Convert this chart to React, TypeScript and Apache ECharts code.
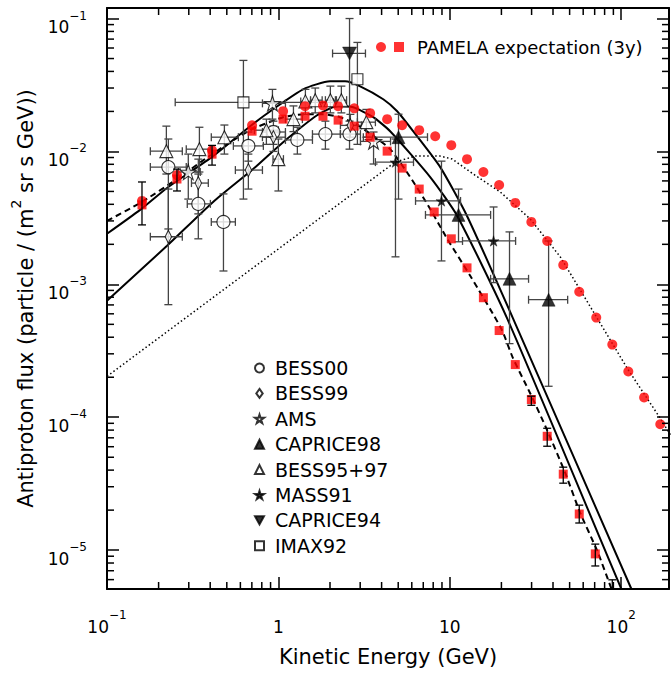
import React, { useEffect, useRef } from 'react';
import * as echarts from 'echarts';

const FONT = '"DejaVu Sans", Verdana, sans-serif';

const X_MIN = 0.1;
const X_MAX = 190;
const Y_MIN = 5.1e-6;
const Y_MAX = 0.12;

const xMinorTicks = [0.2, 0.3, 0.4, 0.5, 0.6, 0.7, 0.8, 0.9, 2, 3, 4, 5, 6, 7, 8, 9, 20, 30, 40, 50, 60, 70, 80, 90];
const yMinorTicks = [
  6e-6, 7e-6, 8e-6, 9e-6,
  2e-5, 3e-5, 4e-5, 5e-5, 6e-5, 7e-5, 8e-5, 9e-5,
  2e-4, 3e-4, 4e-4, 5e-4, 6e-4, 7e-4, 8e-4, 9e-4,
  2e-3, 3e-3, 4e-3, 5e-3, 6e-3, 7e-3, 8e-3, 9e-3,
  2e-2, 3e-2, 4e-2, 5e-2, 6e-2, 7e-2, 8e-2, 9e-2,
];

// Model curves
const upperE = [0.1, 0.156, 0.224, 0.416, 0.684, 0.931, 1.394, 2.0, 2.45, 3.0, 4.09, 4.93, 6.11, 8.79, 12.6, 23.4, 114.5, 200];
const upperF = [2.4e-3, 3.63e-3, 5.31e-3, 9.22e-3, 1.548e-2, 2.077e-2, 2.934e-2, 3.37e-2, 3.37e-2, 3.09e-2, 2.47e-2, 2.006e-2, 1.42e-2, 7.62e-3, 3.27e-3, 5.52e-4, 5.12e-6, 9.9e-7];

const lowerE = [0.1, 0.224, 0.416, 0.712, 1.065, 1.682, 2.201, 2.731, 3.572, 4.487, 7.685, 11.05, 21.63, 100.1, 200];
const lowerF = [7.53e-4, 1.95e-3, 4.17e-3, 7.37e-3, 1.174e-2, 1.872e-2, 2.187e-2, 2.15e-2, 1.81e-2, 1.42e-2, 6.42e-3, 3.27e-3, 5.52e-4, 5.12e-6, 6.6e-7];

const dashedE = [0.1, 0.16, 0.256, 0.41, 0.684, 1.065, 1.43, 1.82, 2.29, 2.842, 3.524, 4.487, 5.87, 7.685, 9.656, 13.15, 19.95, 23.4, 29.47, 37.0, 47.2, 57.7, 72.5, 86.4, 120];
const dashedF = [3.0e-3, 4.17e-3, 6.2e-3, 9.54e-3, 1.445e-2, 1.81e-2, 1.905e-2, 1.905e-2, 1.81e-2, 1.602e-2, 1.325e-2, 1.041e-2, 6.42e-3, 3.69e-3, 2.2e-3, 1.16e-3, 4.64e-4, 2.77e-4, 1.51e-4, 7.97e-5, 3.79e-5, 1.9e-5, 9.86e-6, 5.39e-6, 1.8e-6];

const dottedE = [0.1, 4.8, 6.28, 8.79, 10.33, 13.7, 19.7, 29.47, 44.1, 68.7, 108.5, 169, 199];
const dottedF = [2.03e-4, 8.31e-3, 9.22e-3, 9.22e-3, 8.76e-3, 6.76e-3, 4.95e-3, 3.1e-3, 1.61e-3, 6.23e-4, 2.33e-4, 9.81e-5, 6.95e-5];

// PAMELA expectation (3y)
const pamelaCircleE = [0.16, 0.256, 0.41, 0.702, 1.065, 1.43, 1.82, 2.23, 2.77, 3.43, 4.31, 5.27, 6.63, 8.22, 10.2, 12.6, 15.7, 19.4, 24.1, 29.9, 37.0, 45.9, 56.9, 71.5, 88.7, 110, 136, 169];
const pamelaCircleF = [4.24e-3, 6.64e-3, 1.02e-2, 1.575e-2, 2.01e-2, 2.19e-2, 2.22e-2, 2.19e-2, 2.11e-2, 1.94e-2, 1.75e-2, 1.575e-2, 1.445e-2, 1.3e-2, 1.115e-2, 8.75e-3, 7.0e-3, 5.59e-3, 4.1e-3, 2.95e-3, 2.12e-3, 1.4e-3, 8.8e-4, 5.62e-4, 3.52e-4, 2.21e-4, 1.41e-4, 8.85e-5];

const pamelaSquareE = [0.16, 0.256, 0.41, 0.702, 1.065, 1.43, 1.82, 2.23, 2.77, 3.43, 4.31, 5.27, 6.63, 8.11, 10.2, 12.6, 15.7, 19.4, 24.1, 29.9, 37.0, 45.9, 56.9, 70.6, 88.7];
const pamelaSquareF = [3.96e-3, 6.2e-3, 9.54e-3, 1.42e-2, 1.75e-2, 1.84e-2, 1.84e-2, 1.72e-2, 1.55e-2, 1.28e-2, 1.005e-2, 7.49e-3, 5.21e-3, 3.5e-3, 2.2e-3, 1.33e-3, 7.93e-4, 4.49e-4, 2.49e-4, 1.36e-4, 7.19e-5, 3.73e-5, 1.87e-5, 9.37e-6, 4.6e-6];
const pamelaSquareLo = [2.8e-3, 5.04e-3, 7.89e-3, null, null, null, null, null, null, null, null, null, null, null, null, null, null, null, null, 1.23e-4, 6.05e-5, 3.19e-5, 1.6e-5, 7.6e-6, 3.4e-6];
const pamelaSquareHi = [5.89e-3, 7.36e-3, 1.11e-2, null, null, null, null, null, null, null, null, null, null, null, null, null, null, null, null, 1.44e-4, 8.26e-5, 4.21e-5, 2.18e-5, 1.11e-5, 5.98e-6];

// Measurements: [E, flux, E low, E high, flux low, flux high]
const bess00 = [
  [0.228, 7.62e-3, 0.179, 0.29, 2.61e-3, 1.24e-2],
  [0.341, 4.03e-3, 0.294, 0.401, 2.2e-3, 6.76e-3],
  [0.478, 2.95e-3, 0.406, 0.561, 1.26e-3, 4.79e-3],
  [0.668, 1.1e-2, 0.546, 0.817, 8.45e-3, 1.4e-2],
  [0.935, 1.4e-2, 0.807, 1.099, 1.13e-2, 1.69e-2],
  [1.29, 1.22e-2, 1.099, 1.58, 9.55e-3, 1.52e-2],
  [1.88, 1.35e-2, 1.58, 2.3, 1.04e-2, 1.69e-2],
  [2.6, 1.35e-2, 2.3, 3.01, 1.04e-2, 1.69e-2],
];
const bess99 = [
  [0.228, 2.28e-3, 0.179, 0.275, 7.03e-4, 5.21e-3],
  [0.341, 5.78e-3, 0.311, 0.39, 3.39e-3, 8.75e-3],
  [0.668, 7.24e-3, 0.561, 0.807, 5.21e-3, 9.55e-3],
  [0.935, 1.28e-2, 0.807, 1.099, 1.0e-2, 1.55e-2],
  [2.63, 1.57e-2, 2.3, 3.05, 1.28e-2, 1.9e-2],
];
const ams = [
  [0.298, 7.0e-3, 0.261, 0.35, 4.38e-3, 9.55e-3],
  [0.923, 2.3e-2, 0.807, 1.099, 1.75e-2, 2.93e-2],
  [3.59, 1.19e-2, 3.01, 4.51, 8.04e-3, 1.4e-2],
];
const caprice98 = [
  [5.02, 1.28e-2, 3.13, 7.41, 4.38e-3, 1.905e-2],
  [11.24, 3.33e-3, 7.21, 17.3, 2.09e-3, 5.21e-3],
  [22.3, 1.1e-3, 17.3, 28.8, 3.58e-4, 2.48e-3],
  [37.7, 7.66e-4, 28.8, 48.7, 1.71e-4, 2.12e-3],
];
const bess9597 = [
  [0.222, 1.005e-2, 0.179, 0.275, 6.76e-3, 1.55e-2],
  [0.346, 1.04e-2, 0.29, 0.401, 7.0e-3, 1.52e-2],
  [0.484, 1.28e-2, 0.406, 0.584, 9.55e-3, 1.58e-2],
  [0.851, 1.445e-2, 0.724, 1.0, 1.13e-2, 1.75e-2],
  [1.0, 8.75e-3, 0.93, 1.07, 5.04e-3, 1.24e-2],
  [1.224, 1.75e-2, 1.099, 1.38, 1.41e-2, 2.2e-2],
  [1.437, 2.38e-2, 1.35, 1.54, 1.9e-2, 2.93e-2],
  [1.64, 2.43e-2, 1.54, 1.8, 1.95e-2, 3.0e-2],
  [2.01, 2.43e-2, 1.88, 2.15, 1.95e-2, 3.1e-2],
  [2.33, 2.43e-2, 2.18, 2.5, 1.95e-2, 3.1e-2],
  [3.26, 1.66e-2, 2.89, 3.68, 1.28e-2, 2.07e-2],
];
const mass91 = [
  [4.82, 8.31e-3, 3.68, 6.14, 1.61e-3, 1.24e-2],
  [8.94, 4.24e-3, 6.31, 11.55, 1.5e-3, 8.45e-3],
  [18.0, 2.12e-3, 11.86, 24.2, 1.03e-3, 3.82e-3],
];
const caprice94 = [
  [2.6, 5.46e-2, 2.07, 3.22, 1.58e-2, 0.1],
];
const imax92 = [
  [0.625, 2.34e-2, 0.25, 2.09, 4.38e-3, 4.84e-2],
  [2.89, 3.49e-2, null, null, 1.13e-2, 6.61e-2],
];

const legendNames = ['BESS00', 'BESS99', 'AMS', 'CAPRICE98', 'BESS95+97', 'MASS91', 'CAPRICE94', 'IMAX92'];
const PAMELA_LABEL = 'PAMELA expectation (3y)';
const PAMELA_CIRCLES = 'PAMELA (circles)';

const STAR = 'path://M50,0 L61,35 L98,35 L68,57 L79,91 L50,70 L21,91 L32,57 L2,35 L39,35 Z';
const DIAMOND = 'path://M5,0 L10,7 L5,14 L0,7 Z';
const INV_TRI = 'path://M0,0 L12,0 L6,11 Z';

const num = (v: any) => (v === null || v === undefined ? NaN : v);

function powLabel(v: number, isX: boolean): string {
  const l = Math.log10(v);
  const e = Math.round(l);
  if (Math.abs(l - e) > 1e-6) return '';
  if (isX && e === 0) return '{b|1}';
  if (isX && e === 1) return '{b|10}';
  const s = e < 0 ? '\u2212' + -e : String(e);
  return '{b|10}{s|' + s + '}';
}

const labelRich = {
  b: { fontSize: 17, fontFamily: FONT, color: '#000', lineHeight: 26, verticalAlign: 'bottom' },
  s: { fontSize: 12, fontFamily: FONT, color: '#000', lineHeight: 12, verticalAlign: 'top' },
};

function errorBars(name: string, rows: any[][], color = '#444', z = 3) {
  return {
    type: 'custom',
    name: name + ' err',
    silent: true,
    clip: true,
    z,
    data: rows.map((r) => r.map(num)),
    encode: { x: 0, y: 1 },
    renderItem: (params: any, api: any) => {
      const e = api.value(0);
      const f = api.value(1);
      const elo = api.value(2);
      const ehi = api.value(3);
      const flo = api.value(4);
      const fhi = api.value(5);
      const style = { stroke: color, lineWidth: 1.3, fill: null };
      const cap = 4;
      const children: any[] = [];
      if (flo > 0 && fhi > 0) {
        const a = api.coord([e, flo]);
        const b = api.coord([e, fhi]);
        children.push({ type: 'line', shape: { x1: a[0], y1: a[1], x2: b[0], y2: b[1] }, style });
        children.push({ type: 'line', shape: { x1: a[0] - cap, y1: a[1], x2: a[0] + cap, y2: a[1] }, style });
        children.push({ type: 'line', shape: { x1: b[0] - cap, y1: b[1], x2: b[0] + cap, y2: b[1] }, style });
      }
      if (elo > 0 && ehi > 0) {
        const a = api.coord([elo, f]);
        const b = api.coord([ehi, f]);
        children.push({ type: 'line', shape: { x1: a[0], y1: a[1], x2: b[0], y2: b[1] }, style });
        children.push({ type: 'line', shape: { x1: a[0], y1: a[1] - cap, x2: a[0], y2: a[1] + cap }, style });
        children.push({ type: 'line', shape: { x1: b[0], y1: b[1] - cap, x2: b[0], y2: b[1] + cap }, style });
      }
      return { type: 'group', children };
    },
  };
}

function scatter(name: string, rows: any[][], symbol: string, size: any, filled: boolean) {
  return {
    type: 'scatter',
    name,
    data: rows.map((r) => [r[0], r[1]]),
    symbol,
    symbolSize: size,
    symbolKeepAspect: true,
    z: 4,
    itemStyle: filled
      ? { color: '#000', borderColor: '#000', borderWidth: 0.5 }
      : { color: '#fff', borderColor: '#000', borderWidth: 1.1 },
  };
}

function curve(name: string, xs: number[], ys: number[], type: any, width: number, smooth: number) {
  return {
    type: 'line',
    name,
    data: xs.map((x, i) => [x, ys[i]]),
    symbol: 'none',
    smooth,
    clip: true,
    silent: true,
    z: 2,
    lineStyle: { color: '#000', width, type },
  };
}

function buildOption() {
  const axisLine = { show: true, onZero: false, lineStyle: { color: '#000', width: 2 } };
  const axisTick = { show: true, inside: true, length: 12, lineStyle: { color: '#000', width: 1.5 } };
  const minorStyle = { stroke: '#000', lineWidth: 1.5 };
  return {
    animation: false,
    backgroundColor: '#fff',
    grid: { left: 107, right: 3, top: 8, bottom: 84, containLabel: false },
    xAxis: [
      {
        type: 'log', logBase: 10, min: X_MIN, max: X_MAX, position: 'bottom',
        axisLine, axisTick, splitLine: { show: false }, minorTick: { show: false },
        axisLabel: { formatter: (v: number) => powLabel(v, true), margin: 20, rich: labelRich, showMinLabel: true },
        name: 'Kinetic Energy (GeV)', nameLocation: 'middle', nameGap: 55,
        nameTextStyle: { fontSize: 21, fontFamily: FONT, color: '#000', lineHeight: 26 },
      },
      {
        type: 'log', logBase: 10, min: X_MIN, max: X_MAX, position: 'top',
        axisLine, axisTick, splitLine: { show: false }, axisLabel: { show: false },
      },
    ],
    yAxis: [
      {
        type: 'log', logBase: 10, min: Y_MIN, max: Y_MAX, position: 'left',
        axisLine, axisTick, splitLine: { show: false }, minorTick: { show: false },
        axisLabel: { formatter: (v: number) => powLabel(v, false), margin: 20, rich: labelRich, padding: [8, 0, 0, 0] },
        name: '{a|Antiproton flux (particle / (m}{s|2}{a| sr s GeV))}',
        nameLocation: 'middle', nameGap: 70,
        nameTextStyle: {
          rich: {
            a: { fontSize: 21, fontFamily: FONT, color: '#000', lineHeight: 28, verticalAlign: 'bottom' },
            s: { fontSize: 14, fontFamily: FONT, color: '#000', lineHeight: 14, verticalAlign: 'top' },
          },
        },
      },
      {
        type: 'log', logBase: 10, min: Y_MIN, max: Y_MAX, position: 'right',
        axisLine, axisTick, splitLine: { show: false }, axisLabel: { show: false },
      },
    ],
    legend: [
      {
        orient: 'vertical', left: 249, top: 353, itemWidth: 9, itemHeight: 9, itemGap: 5.4,
        selectedMode: false,
        formatter: (n: string) => '{g|}' + n,
        textStyle: { fontSize: 19, fontFamily: FONT, color: '#000', lineHeight: 20, rich: { g: { width: 6 } } },
        data: legendNames,
      },
      {
        orient: 'horizontal', left: 371, top: 32, itemWidth: 10, itemHeight: 10, itemGap: 3,
        selectedMode: false,
        formatter: (n: string) => (n === PAMELA_LABEL ? '{g|}' + n : ''),
        textStyle: { fontSize: 18, fontFamily: FONT, color: '#000', lineHeight: 20, rich: { g: { width: 8 } } },
        data: [PAMELA_CIRCLES, PAMELA_LABEL],
      },
    ],
    series: [
      curve('upper', upperE, upperF, 'solid', 2, 0.2),
      curve('lower', lowerE, lowerF, 'solid', 2, 0.2),
      curve('dashed', dashedE, dashedF, [6, 4], 2, 0.2),
      curve('dotted', dottedE, dottedF, [1.5, 2.5], 1.5, 0),
      errorBars('BESS00', bess00),
      errorBars('BESS99', bess99),
      errorBars('AMS', ams),
      errorBars('CAPRICE98', caprice98),
      errorBars('BESS95+97', bess9597),
      errorBars('MASS91', mass91),
      errorBars('CAPRICE94', caprice94),
      errorBars('IMAX92', imax92),
      errorBars(
        'PAMELA',
        pamelaSquareE.map((e, i) => [e, pamelaSquareF[i], null, null, pamelaSquareLo[i], pamelaSquareHi[i]]),
        '#000',
        6
      ),
      scatter('BESS00', bess00, 'circle', 13, false),
      scatter('BESS99', bess99, DIAMOND, [9, 13], false),
      scatter('AMS', ams, STAR, 16, false),
      scatter('CAPRICE98', caprice98, 'triangle', 13, true),
      scatter('BESS95+97', bess9597, 'triangle', 13, false),
      scatter('MASS91', mass91, STAR, 11, true),
      scatter('CAPRICE94', caprice94, INV_TRI, 14, true),
      scatter('IMAX92', imax92, 'rect', 11, false),
      {
        type: 'scatter', name: PAMELA_CIRCLES, z: 5, symbol: 'circle', symbolSize: 10,
        itemStyle: { color: '#ff0000' },
        data: pamelaCircleE.map((e, i) => [e, pamelaCircleF[i]]),
      },
      {
        type: 'scatter', name: PAMELA_LABEL, z: 5, symbol: 'rect', symbolSize: 9,
        itemStyle: { color: '#ff0000' },
        data: pamelaSquareE.map((e, i) => [e, pamelaSquareF[i]]),
      },
      {
        type: 'custom', name: 'x minor ticks', silent: true, z: 7, clip: false,
        data: xMinorTicks.map((v) => [v, 1e-3]),
        encode: { x: 0, y: 1 },
        renderItem: (params: any, api: any) => {
          const cs = params.coordSys;
          const x = api.coord([api.value(0), 1e-3])[0];
          const yb = cs.y + cs.height;
          return {
            type: 'group',
            children: [
              { type: 'line', shape: { x1: x, y1: yb, x2: x, y2: yb - 7 }, style: minorStyle },
              { type: 'line', shape: { x1: x, y1: cs.y, x2: x, y2: cs.y + 7 }, style: minorStyle },
            ],
          };
        },
      },
      {
        type: 'custom', name: 'y minor ticks', silent: true, z: 7, clip: false,
        data: yMinorTicks.map((v) => [1, v]),
        encode: { x: 0, y: 1 },
        renderItem: (params: any, api: any) => {
          const cs = params.coordSys;
          const y = api.coord([1, api.value(1)])[1];
          const xr = cs.x + cs.width;
          return {
            type: 'group',
            children: [
              { type: 'line', shape: { x1: cs.x, y1: y, x2: cs.x + 7, y2: y }, style: minorStyle },
              { type: 'line', shape: { x1: xr, y1: y, x2: xr - 7, y2: y }, style: minorStyle },
            ],
          };
        },
      },
    ],
  };
}

export default function App() {
  const ref = useRef<HTMLDivElement>(null);
  useEffect(() => {
    if (!ref.current) return;
    const chart = echarts.init(ref.current, undefined, { renderer: 'svg' });
    chart.setOption(buildOption() as any);
    return () => chart.dispose();
  }, []);
  return <div ref={ref} style={{ position: 'absolute', left: 0, top: 0, width: 672, height: 675 }} />;
}
